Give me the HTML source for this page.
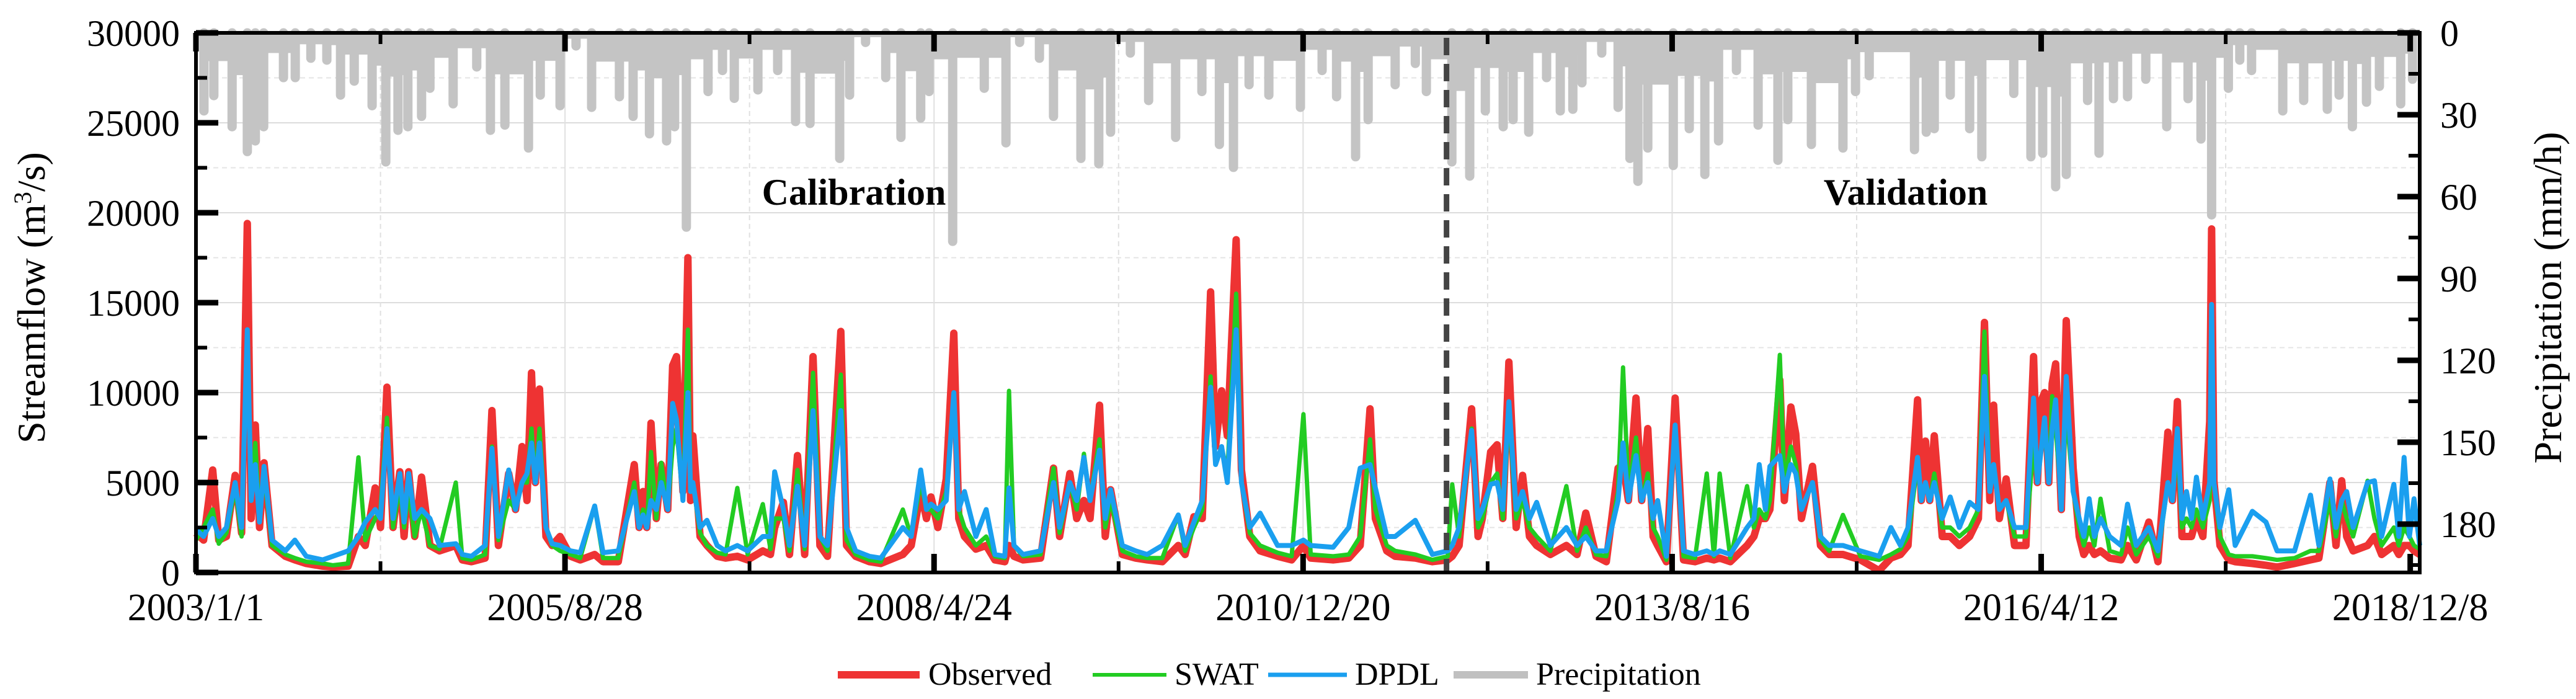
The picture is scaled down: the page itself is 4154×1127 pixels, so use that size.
<!DOCTYPE html>
<html><head><meta charset="utf-8">
<style>
html,body{margin:0;padding:0;background:#fff;}
svg{display:block;font-family:"Liberation Serif",serif;}
</style></head>
<body>
<svg id="chart" width="4154" height="1127" viewBox="0 0 4154 1127" xmlns="http://www.w3.org/2000/svg">
<g id="grid"></g>
<g id="precip"></g>
<g id="flows"></g>
<g id="axes"></g>
<text x="1377" y="330" font-size="60" font-weight="bold" text-anchor="middle">Calibration</text>
<text x="3073" y="330" font-size="60" font-weight="bold" text-anchor="middle">Validation</text>
<text transform="translate(72,480) rotate(-90)" font-size="64" text-anchor="middle">Streamflow (m<tspan baseline-shift="super" font-size="40">3</tspan>/s)</text>
<text transform="translate(4130,480) rotate(-90)" font-size="64" text-anchor="middle">Precipitation (mm/h)</text>
<g>
 <g><line x1="1351" y1="1088" x2="1483" y2="1088" stroke="#ee3333" stroke-width="12"/><text x="1497" y="1104" font-size="52">Observed</text></g>
 <g><line x1="1762" y1="1088" x2="1881" y2="1088" stroke="#22cc22" stroke-width="6"/><text x="1894" y="1104" font-size="52">SWAT</text></g>
 <g><line x1="2045" y1="1088" x2="2172" y2="1088" stroke="#1a9fef" stroke-width="7"/><text x="2185" y="1104" font-size="52">DPDL</text></g>
 <g><line x1="2344" y1="1088" x2="2464" y2="1088" stroke="#c0c0c0" stroke-width="12"/><text x="2477" y="1104" font-size="52">Precipitation</text></g>
</g>
</svg>
<script>
// days since 2003/1/1
const days=[0,20,44,60,80,103,120,135,145,156,167,179,200,235,260,290,333,360,400,427,445,471,485,502,518,536,547,559,575,593,615,640,683,700,724,760,778,795,822,840,857,870,882,892,903,920,936,957,985,1010,1048,1070,1110,1152,1165,1175,1185,1196,1210,1223,1240,1253,1263,1280,1293,1300,1306,1325,1343,1370,1392,1423,1450,1490,1510,1521,1544,1560,1581,1600,1622,1640,1660,1695,1710,1734,1770,1800,1858,1880,1905,1920,1932,1950,1972,1992,2005,2020,2050,2077,2100,2126,2137,2150,2174,2220,2254,2270,2297,2315,2334,2350,2375,2390,2404,2435,2470,2500,2540,2582,2600,2623,2645,2667,2680,2696,2711,2734,2748,2770,2797,2843,2880,2911,2930,2989,3030,3060,3086,3100,3130,3152,3205,3250,3290,3302,3320,3353,3370,3381,3403,3420,3435,3451,3470,3487,3505,3524,3560,3602,3630,3653,3680,3707,3738,3751,3765,3785,3800,3816,3830,3842,3865,3888,3910,3940,3971,3990,4005,4033,4077,4095,4109,4125,4137,4163,4175,4192,4205,4220,4249,4270,4293,4329,4375,4424,4455,4480,4500,4525,4535,4546,4557,4569,4590,4611,4635,4662,4685,4701,4715,4725,4740,4758,4780,4810,4830,4840,4851,4859,4870,4879,4888,4903,4916,4934,4950,4962,4976,4990,5006,5030,5060,5077,5100,5133,5157,5183,5195,5208,5220,5232,5245,5258,5275,5293,5298,5304,5320,5343,5360,5405,5441,5470,5516,5558,5580,5609,5625,5640,5653,5670,5708,5726,5745,5777,5790,5804,5818,5830,5845];
const observed=[2200,1800,5700,1800,2000,5400,2200,19400,3000,8200,2500,6100,1500,900,700,500,350,300,350,2000,1500,4700,2500,10300,2500,5600,2000,5600,2000,5300,1500,1200,1500,700,600,800,9000,1500,5500,3500,7000,4000,11100,5000,10200,2000,1500,2000,900,700,1000,600,600,6000,2500,4500,2500,8300,3000,6000,3500,11500,12000,4500,17500,4000,7600,2000,1500,900,800,900,700,1200,1000,2500,3900,1000,6500,1000,12000,1500,900,13400,1500,900,600,500,1000,1500,4500,3000,4200,2500,5200,13300,3000,2000,1300,1500,700,600,1500,900,700,800,5800,2000,5500,3000,4000,3000,9300,2000,4600,1000,800,700,600,1500,1000,3100,3000,15600,7000,10100,7600,18500,5700,2000,1200,900,700,1500,800,700,800,1500,9100,3000,1200,900,800,600,700,900,1500,9100,2000,3000,6700,7100,3000,11700,2500,5400,2000,1500,1000,1500,1000,3300,900,600,5800,6000,4000,9700,4000,8000,2000,1500,600,9700,700,600,800,700,800,600,1500,2000,3000,3000,3500,10700,4000,9200,7700,3000,5900,1500,1000,1000,700,100,800,1000,1500,9600,4000,7300,4000,7600,2000,2000,1500,2000,3000,13900,4000,9300,3000,5200,1500,1500,12000,5000,9600,10000,5000,10500,11600,3500,14000,5800,2000,1000,1500,1000,1200,800,700,1500,700,2800,600,7800,4000,9500,2000,2000,2000,3000,2000,8400,19100,5100,1500,700,600,500,400,300,500,700,800,5000,1500,5100,2000,1200,1500,2000,1000,1500,1000,1500,1500,1200,1000];
const swat=[1800,2500,3500,1600,2200,4700,2000,13500,4000,7200,3000,5500,1500,1000,800,600,500,400,500,6400,1800,3000,3500,8600,2500,4800,2500,4500,2000,3500,1500,1300,5000,800,700,1000,7000,1800,4000,3500,5000,5000,8000,5000,8000,2500,1500,1200,1000,800,3700,800,800,5000,2500,3500,2500,6700,3000,6100,3500,7000,8000,4000,13500,4500,5000,2200,1500,1100,1000,4700,1000,3800,1300,3000,3000,1200,5700,1300,11100,2000,1200,11000,1800,1000,700,600,3500,2000,5000,3500,3500,3000,4500,9800,3500,2500,1500,2000,900,800,10100,1500,900,1000,5800,2200,5000,3500,6600,4000,7400,2500,4000,1200,900,800,800,3200,1200,2500,3500,10900,6000,7000,5500,15500,5000,2200,1500,1100,900,8800,1000,900,1000,2000,7400,3500,1500,1200,1000,700,900,4900,2000,8000,2500,3000,5000,5500,3000,9000,3000,4000,2500,2000,1200,4800,1200,2500,1000,900,4500,11400,4500,7500,4000,5500,2500,2000,700,8000,900,800,5500,900,5500,800,4800,2500,3500,3000,4000,12100,5000,7000,6000,3500,5000,1800,1200,3200,900,700,1000,1300,2000,6000,4000,5000,4000,5500,2500,2500,2000,2500,3500,13400,4500,6000,3500,4000,2000,2000,7000,5000,7000,8000,5000,9800,8000,4000,9000,4500,2500,1500,2500,1500,4100,1200,1000,2500,1000,2000,900,5000,4000,7000,2500,3000,2500,3500,2500,4000,14900,5000,2000,1000,900,900,800,700,800,1200,1200,4000,2000,4000,3000,2000,5100,3000,1500,2500,1500,2500,2000,1500,1300];
const dpdl=[2400,2000,3000,2000,2500,5000,2500,13500,4000,6000,2800,5900,1800,1200,1800,900,700,900,1200,2000,2800,3500,3000,8000,3000,5500,2800,5500,3000,3500,3000,1500,1600,1000,900,1500,6900,2000,5700,3500,5000,5500,7200,5000,7200,2500,1600,1500,1200,1100,3700,1100,1200,4500,2500,3200,2500,4000,3500,5000,3500,9400,8500,4000,10000,4500,5000,2500,2900,1500,1200,1500,1200,2000,2000,5600,3500,1500,4800,1500,9000,2000,1500,9000,2500,1200,900,800,2500,2000,5700,3500,3800,3500,4000,10000,3500,4500,2000,3500,1000,900,4700,1500,1000,1200,5000,2500,5000,4000,6400,4000,6800,3000,4600,1500,1200,1000,1500,3200,1500,2800,4000,10300,6000,7000,5000,13500,5000,2500,3300,1500,1500,1800,1500,1400,2500,5800,6000,4700,2000,2000,2900,1000,1200,1500,2500,7900,3000,3500,4900,5000,3500,9500,3500,4500,3000,3900,1500,2500,1500,2000,1200,1200,4000,7200,4000,6500,4000,5000,3000,4000,900,8200,1200,1000,1200,1000,1200,1000,2500,3000,6000,3500,5900,6500,4500,6000,5500,3500,5000,2000,1500,1500,1200,900,2500,1500,2500,6400,4000,5000,4000,5000,3000,4200,2500,3900,3500,10900,4500,6000,3500,4000,2500,2500,9700,5000,7000,8600,5000,8000,9600,3500,10900,4500,3000,2000,4100,2000,3000,2000,1500,3800,1500,2500,1200,5000,4000,8000,3000,4500,3000,5300,3000,5000,14900,5000,2500,4600,1500,3400,2800,1200,1200,4300,1500,5200,2500,4000,4500,2500,5000,5100,2000,4900,2000,6400,2000,4100,1500];
const precipDays=[21,47,95,135,156,178,230,261,302,344,380,416,463,499,531,557,593,615,676,738,774,812,874,905,957,999,1040,1113,1149,1192,1237,1258,1289,1346,1384,1415,1477,1529,1576,1614,1692,1718,1760,1813,1853,1905,1927,1989,2072,2129,2165,2217,2254,2326,2373,2404,2456,2504,2575,2644,2690,2727,2768,2820,2903,2960,2998,3048,3081,3152,3205,3234,3301,3348,3389,3436,3462,3503,3550,3586,3619,3643,3695,3738,3769,3790,3816,3883,3925,3966,4002,4049,4106,4158,4184,4246,4329,4362,4398,4517,4548,4569,4611,4662,4694,4778,4823,4854,4888,4916,4972,5002,5040,5077,5125,5180,5236,5270,5298,5342,5372,5403,5485,5540,5602,5633,5668,5705,5739,5795,5826];
const precipVals=[28.6,23,34.4,43.5,39.6,34.4,16.4,16.4,9.3,10,22.8,17.7,26.7,47.3,35.7,34.4,30.6,20.3,26,12.5,35.7,33.8,42.2,22.8,26.7,4.8,27.3,23.4,30.6,37,39.6,34.4,71.2,21.5,13.8,24,20.9,13.8,32.5,33.2,46,22.8,3.5,16.4,38.3,31.2,21.5,76.4,20.3,40.3,3.5,9.3,30.6,46,48,36.4,7.4,24.8,38.3,21.5,40.9,49.3,19,22.8,27.3,13.8,23.4,45.4,31.8,19,11.2,21.5,47.3,52.5,28.6,34.4,31.8,36.4,16.4,28.6,28,18.3,7.4,27.3,46,54.4,42.2,48.6,35.1,51.9,39.6,13.8,33.8,46.7,31.8,40.9,42.2,21.5,15.7,42.8,36.4,35.1,22.8,35.1,45.4,22.2,45.4,44.1,56.4,51.9,24.8,44.1,24.1,23.4,17,34.4,24.1,38.9,66.7,20.3,10,13.8,28.6,24.8,28,22.8,34.4,25.4,19.6,26,17];
const xTickLabels=["2003/1/1","2005/8/28","2008/4/24","2010/12/20","2013/8/16","2016/4/12","2018/12/8"];
const yTicks=[0,5000,10000,15000,20000,25000,30000];
const y2Ticks=[0,30,60,90,120,150,180];
const splitDay=3287;

const NS="http://www.w3.org/2000/svg";
const L=316,R=3902,T=53,B=923,DMAX=5845;
const xs=d=>L+(d/DMAX)*(R-L);
const ys=v=>B-(v/30000)*(B-T);
const yp=m=>T+m*4.4;
function mk(tag,attrs,parent){const e=document.createElementNS(NS,tag);for(const k in attrs)e.setAttribute(k,attrs[k]);parent.appendChild(e);return e;}
const grid=document.getElementById('grid'),axes=document.getElementById('axes'),pg=document.getElementById('precip'),fg=document.getElementById('flows');

for(let v=2500;v<30000;v+=2500){
  const ln=mk('line',{x1:L,x2:R,y1:ys(v),y2:ys(v),stroke:v%5000?'#e4e4e4':'#dcdcdc','stroke-width':2,'stroke-dasharray':v%5000?'8 6':'none'},grid);
  
  
}
for(let i=0;i<=12;i++){
  const d=i*485, x=xs(d);
  if(i>0&&i<12){
    const g=mk('line',{x1:x,x2:x,y1:T,y2:B,stroke:'#e0e0e0','stroke-width':2,'stroke-dasharray':i%2?'8 6':'none'},grid);
    
    
  }
  const big=i%2===0;
  const tb=mk('line',{x1:x,x2:x,y1:B,y2:B-(big?30:18),stroke:'#000','stroke-width':big?9:6},axes);
  
  
  const tt=mk('line',{x1:x,x2:x,y1:T,y2:T+(big?30:18),stroke:'#000','stroke-width':big?9:6},axes);
  
  
}
xTickLabels.forEach((s,i)=>{
  const t=mk('text',{x:xs(i*970),y:1000,'font-size':62,'text-anchor':'middle'},axes);
  t.textContent=s;
  
  
});
for(let v=0;v<=30000;v+=2500){
  const big=v%5000===0;
  const t=mk('line',{x1:L,x2:L+(big?36:18),y1:ys(v),y2:ys(v),stroke:'#000','stroke-width':big?9:6},axes);
  
  
}
yTicks.forEach(v=>{
  const t=mk('text',{x:290,y:ys(v)+21,'font-size':60,'text-anchor':'end'},axes);
  t.textContent=String(v);
  
  
});
for(let m=0;m<=195;m+=15){
  const big=m%30===0;
  const t=mk('line',{x1:R,x2:R-(big?36:18),y1:yp(m),y2:yp(m),stroke:'#000','stroke-width':big?9:6},axes);
  
  
}
y2Ticks.forEach(m=>{
  const t=mk('text',{x:3935,y:yp(m)+21,'font-size':60},axes);
  t.textContent=String(m);
  
  
});

let pd='M'+L+','+T;
for(let i=0;i<precipDays.length;i++){
  const x=xs(precipDays[i]);
  const next=i+1<precipDays.length?Math.min(precipVals[i],precipVals[i+1]):0;
  const prev=i>0?Math.min(precipVals[i],precipVals[i-1]):0;
  pd+=' L'+x+','+yp(prev*0.45)+' L'+x+','+yp(next*0.45);
}
pd+=' L'+R+','+T+' Z';
const pa=mk('path',{d:pd,fill:'#c4c4c4'},pg);


precipDays.forEach((d,i)=>{
  const b=mk('line',{x1:xs(d),x2:xs(d),y1:T,y2:yp(precipVals[i]),stroke:'#c4c4c4','stroke-width':15,'stroke-linecap':'round'},pg);
  
  
});

function line(vals,color,w,name){
  const pts=days.map((d,i)=>xs(d).toFixed(1)+','+ys(vals[i]).toFixed(1)).join(' ');
  const p=mk('polyline',{points:pts,fill:'none',stroke:color,'stroke-width':w,'stroke-linejoin':'round'},fg);
  
  
}
line(observed,'#ee3333',12,'observed-line');
line(swat,'#22cc22',7,'swat-line');
line(dpdl,'#1a9fef',8,'dpdl-line');

const sl=mk('line',{x1:xs(splitDay),x2:xs(splitDay),y1:T+8,y2:B,stroke:'#444','stroke-width':9,'stroke-dasharray':'28 14'},axes);


const fr=mk('rect',{x:L,y:T,width:R-L,height:B-T,fill:'none',stroke:'#000','stroke-width':6},axes);


</script>
</body></html>
